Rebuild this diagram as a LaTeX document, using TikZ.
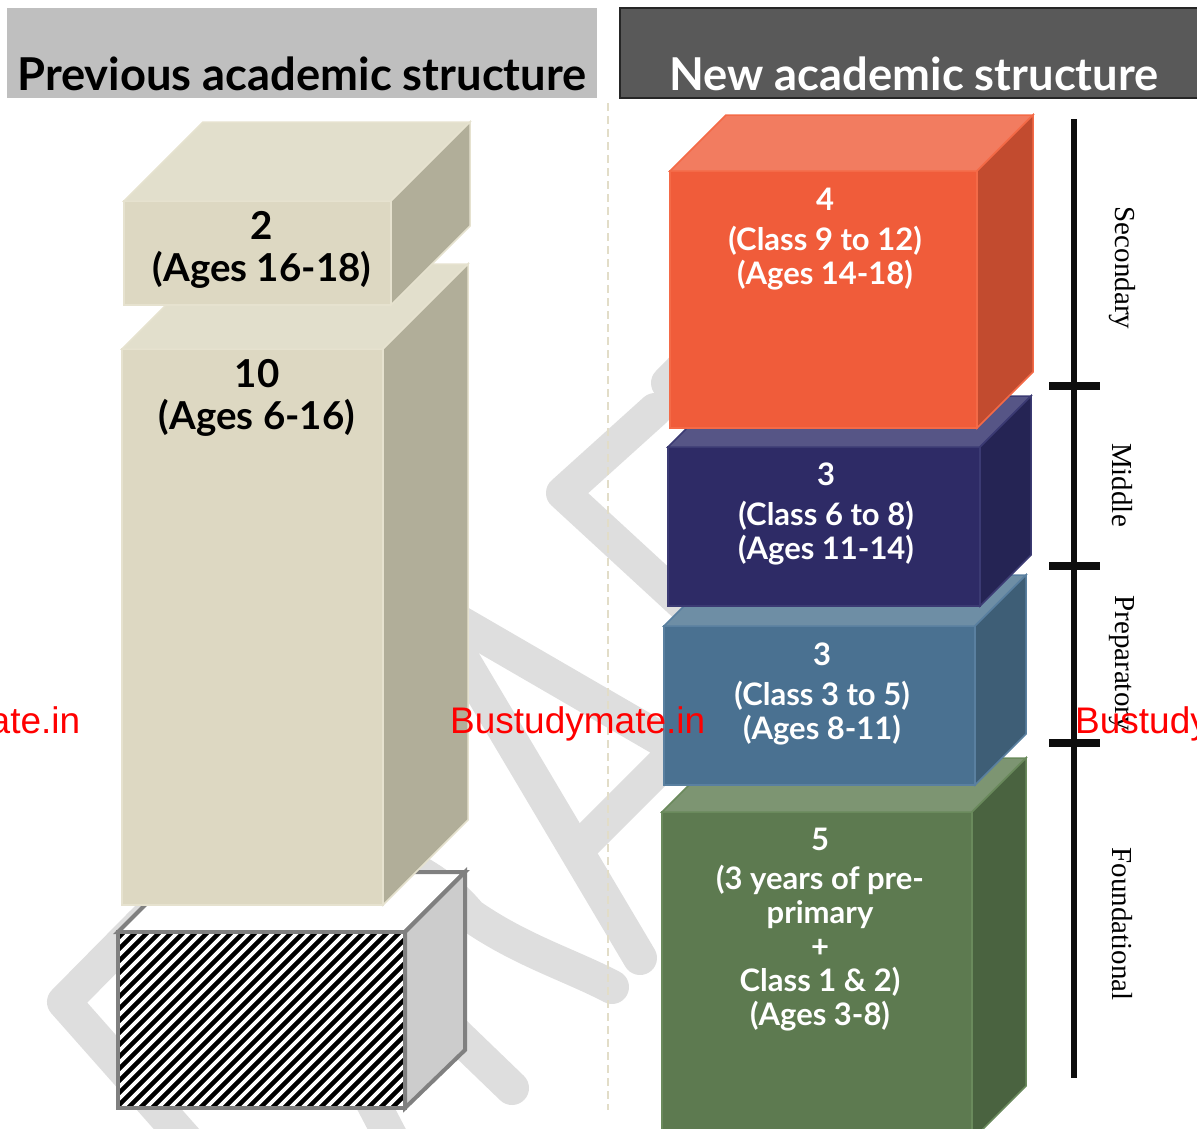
\documentclass[tikz,border=0pt]{standalone}
\usepackage{fontspec}
\setmainfont{Liberation Serif}
\newfontfamily\gill{Lato}
\newfontfamily\arialf{Liberation Sans}
\definecolor{wm}{HTML}{DEDEDE}
\definecolor{hdrL}{HTML}{BFBFBF}
\definecolor{hdrR}{HTML}{595959}
\definecolor{sepc}{HTML}{E2DDC8}
\definecolor{begF}{HTML}{DDD8C2}
\definecolor{begT}{HTML}{E2DFCC}
\definecolor{begR}{HTML}{B1AE99}
\definecolor{begE}{HTML}{E6E2CF}
\definecolor{orF}{HTML}{F05C3A}
\definecolor{orT}{HTML}{F27C60}
\definecolor{orR}{HTML}{C24B2F}
\definecolor{orE}{HTML}{F46A47}
\definecolor{nvF}{HTML}{2E2B66}
\definecolor{nvT}{HTML}{565586}
\definecolor{nvR}{HTML}{252454}
\definecolor{nvE}{HTML}{3B3A73}
\definecolor{blF}{HTML}{4A7191}
\definecolor{blT}{HTML}{6E8EA5}
\definecolor{blR}{HTML}{3E5E76}
\definecolor{blE}{HTML}{5A80A0}
\definecolor{grF}{HTML}{5D7A50}
\definecolor{grT}{HTML}{7D9572}
\definecolor{grR}{HTML}{4A6340}
\definecolor{grE}{HTML}{6A8A5C}
\definecolor{hatE}{HTML}{808080}
\definecolor{hatR}{HTML}{CCCCCC}
\newcommand\drawcuboid[8]{%
  \filldraw[fill=#6] (#1,#2) rectangle (#3,#4);
  \filldraw[fill=#7] (#1,#2) -- (#1+#5,#2-#5) -- (#3+#5,#2-#5) -- (#3,#2) -- cycle;
  \filldraw[fill=#8] (#3,#2) -- (#3+#5,#2-#5) -- (#3+#5,#4-#5) -- (#3,#4) -- cycle;
}
\tikzset{
  wmline/.style={draw=wm, line width=34pt, line cap=round, line join=round},
  hdrtxt/.style={font=\gill\bfseries\fontsize{45.3}{52}\selectfont, anchor=base, inner sep=0pt},
  oldtxt/.style={font=\gill\bfseries\fontsize{38.5}{42}\selectfont, align=center, anchor=north, inner sep=0pt, text=black},
  newtxt/.style={font=\gill\bfseries\fontsize{31}{34}\selectfont, align=center, anchor=north, inner sep=0pt, text=white},
  stagetxt/.style={font=\fontsize{29}{34}\selectfont, rotate=-90, inner sep=0pt},
  wmtxt/.style={font=\arialf\fontsize{37}{40}\selectfont, text=red, anchor=base west, inner sep=0pt},
}
\begin{document}
\begin{tikzpicture}[x=1pt,y=-1pt]
\useasboundingbox (0,0) rectangle (1197,1128);
\begin{scope}
\clip (0,0) rectangle (1197,1128);
% watermark strokes
\draw[wmline] (655,410) -- (563,493) -- (690,610);
\draw[wmline] (668,383) -- (720,330);
\draw[wmline] (440,611) -- (678,749) -- (580,847);
\draw[wmline] (440,621) -- (640,958);
\draw[wmline] (195,1150) -- (64,1002) -- (140,925) .. controls (250,815) and (400,830) .. (470,915) .. controls (520,950) and (570,965) .. (612,987);
\draw[wmline] (400,980) -- (512,1088);
\draw[wmline] (340,1040) -- (395,1145);
% separator
\draw[sepc, line width=1.2pt, dash pattern=on 8pt off 5pt] (608,103) -- (608,1110);
% headers
\fill[hdrL] (7,8) rectangle (597,98);
\node[hdrtxt, text=black] (hprev) at (302,90) {Previous academic structure};
\filldraw[fill=hdrR, draw=black!85, line width=2pt] (620,8) rectangle (1205,98);
\node[hdrtxt, text=white] (hnew) at (914,90) {New academic structure};
% hatched box
\filldraw[draw=hatE, line width=4pt, fill=white] (118,932) -- (178,872) -- (465,872) -- (405,932) -- cycle;
\filldraw[draw=hatE, line width=4pt, fill=hatR] (405,932) -- (465,872) -- (465,1050) -- (405,1108) -- cycle;
\fill[black] (118,932) rectangle (405,1108);
\begin{scope}
  \clip (118,932) rectangle (405,1108);
  \foreach \i in {-18,...,26} {
    \draw[white, line width=3.8pt] (118+\i*12,1112) -- (318+\i*12,912);
  }
\end{scope}
\draw[hatE, line width=4pt] (118,932) rectangle (405,1108);
% old boxes
\begin{scope}[draw=begE, line width=1.5pt]
\drawcuboid{122}{349}{383}{905}{85}{begF}{begT}{begR}
\drawcuboid{124}{201}{391}{305}{79}{begF}{begT}{begR}
\end{scope}
\node[oldtxt] (o2) at (262,211) {2\\(Ages 16-18)};
\node[oldtxt] (o10) at (257,359) {10\\(Ages 6-16)};
% new boxes
\begin{scope}[draw=grE, line width=1.5pt]
\drawcuboid{662}{812}{972}{1140}{54}{grF}{grT}{grR}
\end{scope}
\begin{scope}[draw=blE, line width=1.5pt]
\drawcuboid{664}{626}{975}{785}{51}{blF}{blT}{blR}
\end{scope}
\begin{scope}[draw=nvE, line width=1.5pt]
\drawcuboid{668}{447}{980}{606}{51}{nvF}{nvT}{nvR}
\end{scope}
\begin{scope}[draw=orE, line width=1.5pt]
\drawcuboid{670}{171}{977}{428}{56}{orF}{orT}{orR}
\end{scope}
\node[newtxt] (n4) at (825,188) {4\\[6pt](Class 9 to 12)\\(Ages 14-18)};
\node[newtxt] (n3a) at (826,463) {3\\[6pt](Class 6 to 8)\\(Ages 11-14)};
\node[newtxt] (n3b) at (822,643) {3\\[6pt](Class 3 to 5)\\(Ages 8-11)};
\node[newtxt] (n5) at (820,828) {5\\[5pt](3 years of pre-\\primary\\+\\Class 1 \& 2)\\(Ages 3-8)};
% stage scale
\coordinate (bartop) at (1074,119);
\coordinate (barbot) at (1074,1078);
\draw[black!95, line width=6pt] (bartop) -- (barbot);
\foreach \yy/\nm in {386/ta,566/tb,743/tc} {
  \coordinate (\nm l) at (1049,\yy);
  \coordinate (\nm r) at (1100,\yy);
  \draw[black!95, line width=8pt] (\nm l) -- (\nm r);
}
\node[stagetxt] (ssec) at (1122,268) {Secondary};
\node[stagetxt] (smid) at (1122,485) {Middle};
\node[stagetxt] (sprep) at (1122,663) {Preparatory};
\node[stagetxt] (sfound) at (1122,924) {Foundational};
% red watermark text
\node[wmtxt] (w1) at (-175,733) {Bustudymate.in};
\node[wmtxt] (w2) at (450,733) {Bustudymate.in};
\node[wmtxt] (w3) at (1075,733) {Bustudymate.in};
\end{scope}
\end{tikzpicture}
\end{document}
